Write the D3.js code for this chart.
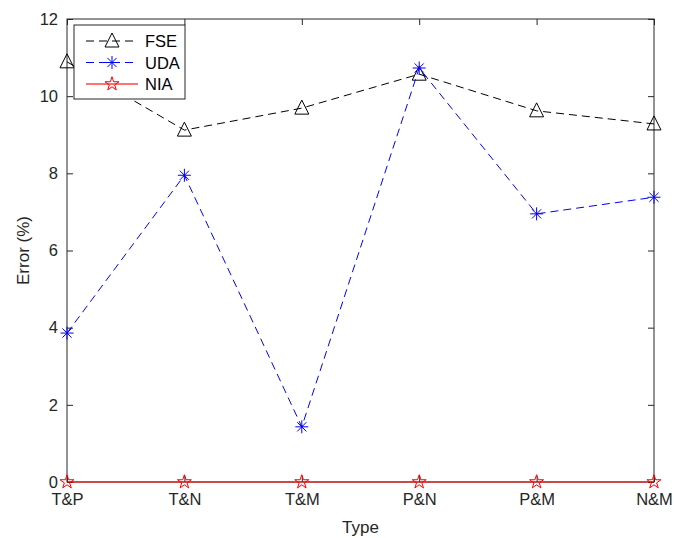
<!DOCTYPE html>
<html>
<head>
<meta charset="utf-8">
<script src="https://cdn.jsdelivr.net/npm/d3@7"></script>
<style>
  body { margin: 0; background: #fff; }
  svg { font-family: "Liberation Sans", Arial, sans-serif; }
</style>
</head>
<body>
<svg width="674" height="538"></svg>
<script>
var categories = ["T&P", "T&N", "T&M", "P&N", "P&M", "N&M"];
var fse = [10.89, 9.12, 9.69, 10.57, 9.62, 9.28];
var uda = [3.86, 7.95, 1.43, 10.73, 6.95, 7.38];
var nia = [0, 0, 0, 0, 0, 0];
var yTicks = [0, 2, 4, 6, 8, 10, 12];

var svg = d3.select("svg"),
    margin = {top: 19, right: 20, bottom: 56, left: 67},
    width = 674 - margin.left - margin.right,
    height = 538 - margin.top - margin.bottom;

var x = d3.scalePoint().domain(categories).range([0, width]),
    y = d3.scaleLinear().domain([0, 12]).range([height, 0]);

var g = svg.append("g")
    .attr("transform", "translate(" + margin.left + "," + margin.top + ")");

var axisColor = "#262626";

// axes with inward ticks (MATLAB style box)
function styleAxis(sel) {
  sel.select(".domain").remove();
  sel.selectAll(".tick line").attr("stroke", axisColor);
  sel.selectAll(".tick text").attr("fill", axisColor).style("font-size", "16.5px");
}

g.append("g")
  .attr("transform", "translate(0," + height + ")")
  .call(d3.axisBottom(x).tickSizeInner(-6).tickSizeOuter(0).tickPadding(11))
  .call(styleAxis);

g.append("g")
  .call(d3.axisTop(x).tickSizeInner(-6).tickSizeOuter(0).tickFormat(""))
  .call(styleAxis);

g.append("g")
  .call(d3.axisLeft(y).tickValues(yTicks).tickSizeInner(-6).tickSizeOuter(0).tickPadding(9))
  .call(styleAxis);

g.append("g")
  .attr("transform", "translate(" + width + ",0)")
  .call(d3.axisRight(y).tickValues(yTicks).tickSizeInner(-6).tickSizeOuter(0).tickFormat(""))
  .call(styleAxis);

g.append("rect")
  .attr("width", width).attr("height", height)
  .attr("fill", "none").attr("stroke", axisColor).attr("stroke-width", 1);

// series
var series = [
  {name: "FSE", values: fse, color: "#000", dash: "8,5", marker: "triangle"},
  {name: "UDA", values: uda, color: "#0000ff", dash: "8,5", marker: "asterisk"},
  {name: "NIA", values: nia, color: "#ff0000", dash: null, marker: "star"}
];

var line = d3.line()
  .x(function(d, i) { return x(categories[i]); })
  .y(function(d) { return y(d); });

function drawMarker(sel, type, color) {
  if (type === "triangle") {
    sel.append("path")
      .attr("d", "M0,-8L7,6L-7,6Z")
      .attr("fill", "none").attr("stroke", color).attr("stroke-width", 1);
  } else if (type === "asterisk") {
    var r = 6.5;
    [0, 45, 90, 135].forEach(function(a) {
      var rad = a * Math.PI / 180;
      sel.append("line")
        .attr("x1", -r * Math.cos(rad)).attr("y1", -r * Math.sin(rad))
        .attr("x2", r * Math.cos(rad)).attr("y2", r * Math.sin(rad))
        .attr("stroke", color).attr("stroke-width", 1);
    });
  } else {
    sel.append("path")
      .attr("d", d3.symbol().type(d3.symbolStar).size(60)())
      .attr("fill", "none").attr("stroke", color).attr("stroke-width", 1);
  }
}

series.forEach(function(s) {
  g.append("path")
    .datum(s.values)
    .attr("d", line)
    .attr("fill", "none")
    .attr("stroke", s.color)
    .attr("stroke-width", 1)
    .attr("stroke-dasharray", s.dash);

  g.selectAll(".m-" + s.name)
    .data(s.values)
    .enter().append("g")
      .attr("transform", function(d, i) { return "translate(" + x(categories[i]) + "," + y(d) + ")"; })
      .each(function() { drawMarker(d3.select(this), s.marker, s.color); });
});

// axis labels
svg.append("text")
  .attr("x", margin.left + width / 2).attr("y", 533)
  .attr("text-anchor", "middle").attr("fill", axisColor)
  .style("font-size", "17px").text("Type");

svg.append("text")
  .attr("transform", "translate(29," + (margin.top + height / 2) + ") rotate(-90)")
  .attr("text-anchor", "middle").attr("fill", axisColor)
  .style("font-size", "17px").text("Error (%)");

// legend
var lg = g.append("g").attr("transform", "translate(7,6)");
lg.append("rect")
  .attr("width", 111).attr("height", 74)
  .attr("fill", "#fff").attr("stroke", axisColor).attr("stroke-width", 1);

series.forEach(function(s, i) {
  var ly = 16 + i * 21.5;
  lg.append("line")
    .attr("x1", 12).attr("x2", 64).attr("y1", ly).attr("y2", ly)
    .attr("stroke", s.color)
    .attr("stroke-dasharray", s.dash ? "8,5" : null)
    .attr("opacity", s.dash ? 1 : 0.55)
    .attr("stroke-width", s.dash ? 1 : 2);
  var m = lg.append("g").attr("transform", "translate(38," + ly + ")");
  drawMarker(m, s.marker, s.color);
  lg.append("text")
    .attr("x", 71).attr("y", ly + 6)
    .attr("fill", "#000").style("font-size", "16.5px").text(s.name);
});
</script>
</body>
</html>
